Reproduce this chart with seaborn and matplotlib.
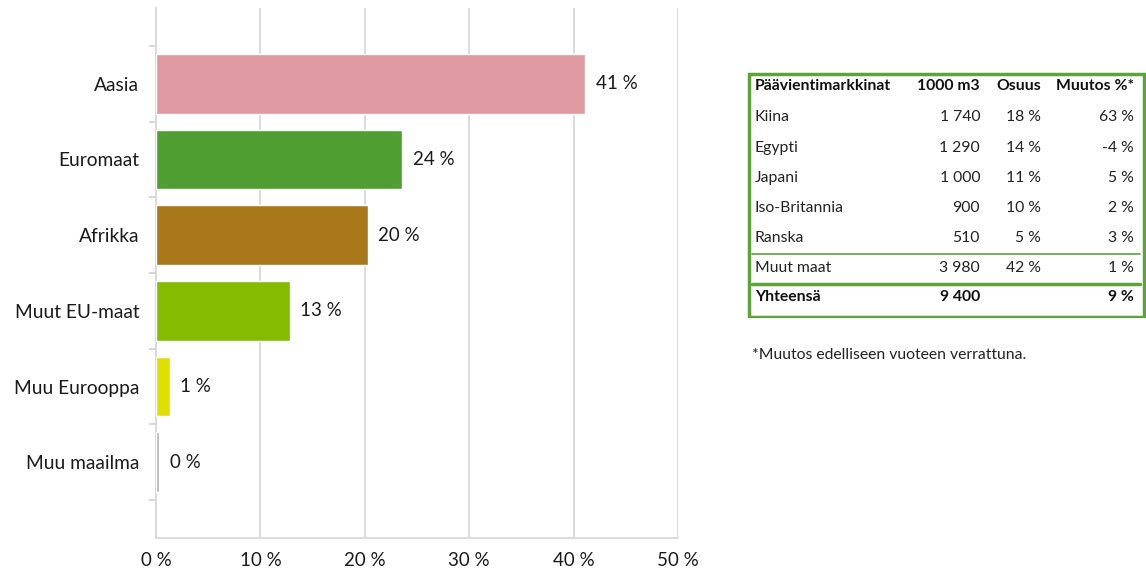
import matplotlib
matplotlib.use("Agg")
import matplotlib.pyplot as plt
import seaborn as sns
import pandas as pd
from matplotlib.patches import Rectangle

# chart data
regions = ["Aasia", "Euromaat", "Afrikka", "Muut EU-maat", "Muu Eurooppa", "Muu maailma"]
shares = [41.1, 23.6, 20.3, 12.8, 1.3, 0.3]
share_labels = ["41 %", "24 %", "20 %", "13 %", "1 %", "0 %"]
bar_colors = ["#DE9AA0", "#4E9E32", "#A8781A", "#85BB00", "#E0E000", "#B4B4B4"]

# table data
tbl_header = ["Päävientimarkkinat", "1000 m3", "Osuus", "Muutos %*"]
tbl_countries = ["Kiina", "Egypti", "Japani", "Iso-Britannia", "Ranska", "Muut maat"]
tbl_volume = ["1 740", "1 290", "1 000", "900", "510", "3 980"]
tbl_share = ["18 %", "14 %", "11 %", "10 %", "5 %", "42 %"]
tbl_change = ["63 %", "-4 %", "5 %", "2 %", "3 %", "1 %"]
tbl_total = ["Yhteensä", "9 400", "", "9 %"]
footnote = "*Muutos edelliseen vuoteen verrattuna."

sns.set_style("white")
plt.rcParams["font.family"] = ["Lato", "DejaVu Sans"]

W, H = 1146, 576
fig = plt.figure(figsize=(W / 100, H / 100), dpi=100)

def px_axes(x0, y0, x1, y1):
    return fig.add_axes([x0 / W, 1 - y1 / H, (x1 - x0) / W, (y1 - y0) / H])

ax = px_axes(156, 8, 678, 538)
df = pd.DataFrame({"region": regions, "share": shares})
sns.barplot(data=df, x="share", y="region", hue="region", palette=bar_colors,
            saturation=1, orient="h", width=0.79, legend=False, ax=ax, zorder=3)

ax.set_xlim(0, 50)
ax.set_ylim(6, -1)
ax.set_xticks(range(0, 51, 10))
ax.set_xticklabels([f"{v} %" for v in range(0, 51, 10)], fontsize=13.5, color="#1a1a1a")
ax.set_yticks(range(len(regions)))
ax.set_yticklabels(regions, fontsize=13.8, color="#1a1a1a")
ax.set_yticks([i - 0.5 for i in range(len(regions) + 1)], minor=True)
ax.tick_params(axis="y", which="major", left=False, length=0, pad=12)
ax.tick_params(axis="y", which="minor", left=True, length=5, color="#d0d0d0", width=1.2)
ax.tick_params(axis="x", length=0, pad=10)
ax.xaxis.grid(True, color="#d9d9d9", linewidth=1.3, zorder=0)
ax.set_axisbelow(True)
for s in ["top", "right"]:
    ax.spines[s].set_visible(False)
for s in ["left", "bottom"]:
    ax.spines[s].set_color("#d9d9d9")
    ax.spines[s].set_linewidth(1.3)
ax.set_xlabel("")
ax.set_ylabel("")

for i, (v, lab) in enumerate(zip(shares, share_labels)):
    ax.text(v + 1.0, i, lab, va="center", ha="left", fontsize=13.5, color="#1a1a1a")

# table on the right
tx = px_axes(746, 71, 1146, 318)
tx.set_xlim(746, 1146)
tx.set_ylim(318, 71)
tx.axis("off")
green = "#5BA33B"
tx.add_patch(Rectangle((748.5, 73.5), 395, 243, fill=False, edgecolor=green, linewidth=2.5))

col_x = [755, 980, 1041, 1134]
col_ha = ["left", "right", "right", "right"]
fs = 11.3
for x, ha, t in zip(col_x, col_ha, tbl_header):
    tx.text(x, 86, t, ha=ha, va="center", fontsize=fs, fontweight="bold", color="#111111")

row_y = [117, 148, 178, 208, 238, 268]
for y, c, vol, sh, ch in zip(row_y, tbl_countries, tbl_volume, tbl_share, tbl_change):
    for x, ha, t in zip(col_x, col_ha, [c, vol, sh, ch]):
        tx.text(x, y, t, ha=ha, va="center", fontsize=fs, color="#222222")

for x, ha, t in zip(col_x, col_ha, tbl_total):
    tx.text(x, 297, t, ha=ha, va="center", fontsize=fs, fontweight="bold", color="#111111")

tx.plot([752, 1140], [254, 254], color=green, linewidth=1.2)
tx.plot([752, 1140], [284, 284], color=green, linewidth=2.5)

fig.text(752 / W, 1 - 355 / H, footnote, ha="left", va="center", fontsize=fs, color="#222222")

fig.savefig("out.png", dpi=100)
